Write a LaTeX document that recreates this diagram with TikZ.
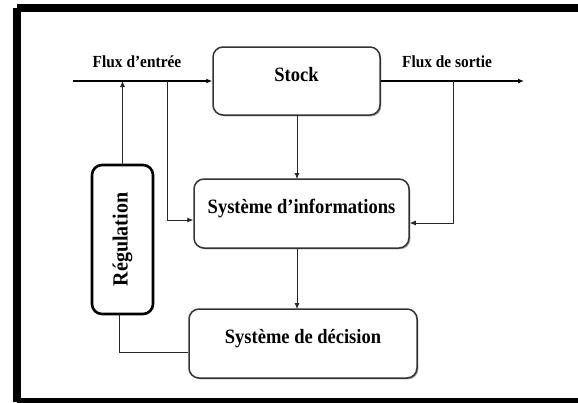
\documentclass[tikz,border=0pt]{standalone}
\usepackage{fontspec}
\setmainfont{Liberation Serif}
\usetikzlibrary{arrows.meta,shadows}
\newcommand{\tallt}[1]{\scalebox{1}[1.1]{#1}}
\begin{document}
\begin{tikzpicture}[x=1pt,y=-1pt,
  box/.style={draw=black!80, line width=1.5pt, rounded corners=10pt, fill=white,
    drop shadow={shadow xshift=1.3pt, shadow yshift=-1.3pt, fill=gray!70, opacity=1},
    inner sep=0pt, text height=0pt, text depth=0pt, font=\bfseries\fontsize{18.5}{20}\selectfont},
  regbox/.style={draw=black, line width=2.6pt, rounded corners=10pt, fill=white, inner sep=0pt},
  lbl/.style={font=\bfseries\fontsize{15.4}{17}\selectfont, inner sep=0pt},
  mainline/.style={line width=1.6pt, -{Latex[length=6pt,width=5pt]}},
  thin/.style={line width=0.8pt, draw=black!85},
  thinarrow/.style={thin, -{Latex[length=6pt,width=5pt]}}
]
\useasboundingbox (0,0) rectangle (578,402);
\draw[line width=8pt] (17,8) -- (590,8) (17,8) -- (17,402) (17,402) -- (590,402);

\node[box, minimum width=167pt, minimum height=68pt] (stock) at (296.5,81) {\tallt{Stock}};
\node[box, minimum width=215pt, minimum height=69pt] (si) at (301.5,213.5) {\tallt{Système d’informations}};
\node[box, minimum width=228pt, minimum height=69pt] (sd) at (303,343.5) {\tallt{Système de décision}};
\node[regbox, minimum width=61pt, minimum height=149pt] (reg) at (122.5,239.5) {};
\node[rotate=90, inner sep=0pt, font=\bfseries\fontsize{20}{22}\selectfont] (regtxt) at (reg.center) {\scalebox{1}[1.08]{Régulation}};

\node[lbl] (fin) at (137,62) {\tallt{Flux d’entrée}};
\node[lbl] (fout) at (447,62) {\tallt{Flux de sortie}};

\coordinate (inStart) at (73,81);
\coordinate (outEnd) at (524,81);
\coordinate (tapIn) at (167,81);
\coordinate (tapOut) at (453,81);

\draw[mainline] (inStart) -- (stock.west);
\draw[mainline] (stock.east) -- (outEnd);
\draw[thinarrow] (reg.north) -- (reg.north |- inStart);
\draw[thinarrow] (tapIn) -- (167,220) -- (si.west |- 0,220);
\draw[thinarrow] (tapOut) -- (453,223) -- (si.east |- 0,223);
\draw[thinarrow] (297,115) -- (297,179);
\draw[thinarrow] (297,248) -- (297,309);
\draw[thin] (119,314) -- (119,352) -- (sd.west |- 0,352);
\end{tikzpicture}
\end{document}
